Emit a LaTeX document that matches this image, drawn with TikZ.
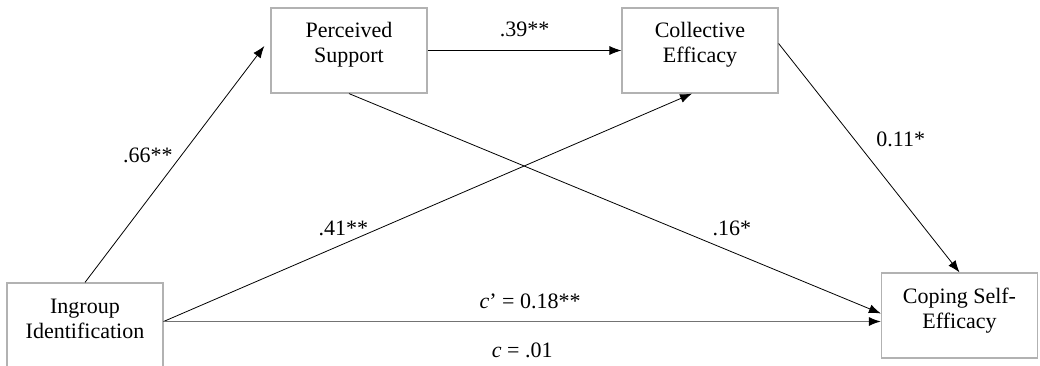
\documentclass[tikz,border=0pt]{standalone}
\usepackage{fontspec}
\setmainfont{Liberation Serif}
\usetikzlibrary{arrows.meta}

\begin{document}
\begin{tikzpicture}[x=1pt, y=-1pt, >={Latex[length=12pt,width=9pt]},
    font=\fontsize{22}{25}\selectfont,
    var/.style={draw=black!30, line width=1.2pt, align=center, minimum width=156pt,
        minimum height=85pt, inner sep=0pt, text height=40pt, text depth=15pt},
    path/.style={->, line width=0.8pt}]
    \useasboundingbox (0,0) rectangle (1040,366);

    % Nodes
    \node[var] (ingroup) at (85, 325.5) {Ingroup\\Identification};
    \node[var] (support) at (349, 50.5) {Perceived\\Support};
    \node[var] (collective) at (700, 50.5) {Collective\\Efficacy};
    \node[var] (coping) at (959.5, 315.5) {Coping Self-\\Efficacy};

    % Edges with labels
    \draw[path, shorten >=10pt] (ingroup.north) -- (support.171) node[pos=0.52, left=5pt] {.66**};
    \draw[path] (support.east) -- (collective.west) node[midway, above=10pt] {.39**};
    \draw[path] (support.south) -- ([yshift=2pt]coping.west) node[pos=0.72, above=12pt] {.16*};
    \draw[path] ([yshift=4pt]ingroup.east) -- ([xshift=-8pt]collective.south) node[pos=0.34, above=4pt] {.41**};
    \draw[path] ([yshift=7pt]collective.east) -- (coping.north) node[pos=0.42, right=18pt] {0.11*};
    \draw[->, draw=black!55, line width=1.2pt, >={Latex[length=12pt,width=9pt,black]}]
        ([yshift=4pt]ingroup.east) -- ([yshift=4pt]ingroup.east -| coping.west)
        node[pos=0.511, above=9pt] {\textit{c}’ = 0.18**}
        node[pos=0.5, below=17pt] {\textit{c} = .01};
\end{tikzpicture}
\end{document}
